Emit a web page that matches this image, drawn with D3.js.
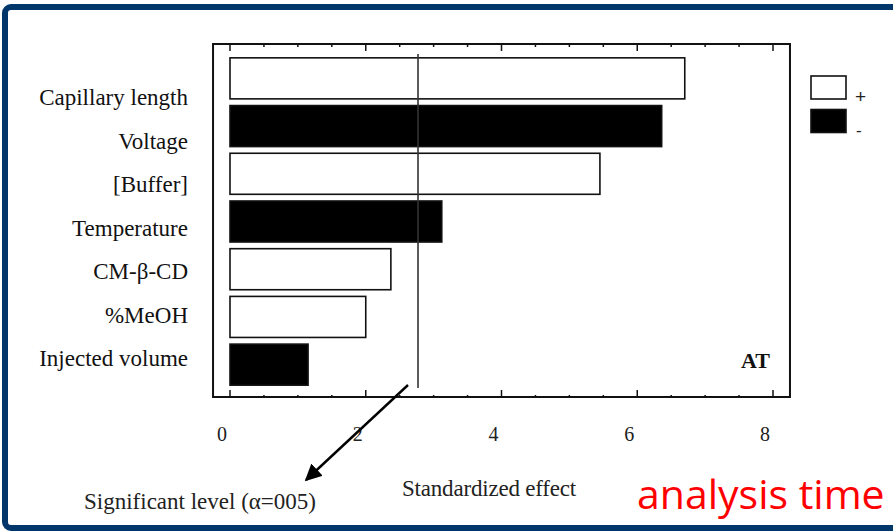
<!DOCTYPE html>
<html>
<head>
<meta charset="utf-8">
<script src="https://cdn.jsdelivr.net/npm/d3@7"></script>
<style>
  body { margin: 0; background: #fff; }
  svg { display: block; }
</style>
</head>
<body>
<svg id="chart"></svg>
<script>
// Pareto chart data (standardized effects, analysis time)
const factors = ["Capillary length", "Voltage", "[Buffer]", "Temperature", "CM-β-CD", "%MeOH", "Injected volume"];
const effects = [6.70, 6.36, 5.45, 3.12, 2.37, 2.00, 1.15];
const signs = ["+", "-", "+", "-", "+", "+", "-"];
const tickValues = [0, 2, 4, 6, 8];
const significance = 2.77;

const width = 893, height = 532;
const svg = d3.select("#chart").attr("width", width).attr("height", height);

// blue slide frame
svg.append("rect")
  .attr("x", 5).attr("y", 7)
  .attr("width", 910).attr("height", 521)
  .attr("rx", 6)
  .attr("fill", "#fff")
  .attr("stroke", "#00366a")
  .attr("stroke-width", 6);

// scales
const x = d3.scaleLinear().domain([0, 8]).range([230, 773]);
const y = d3.scaleBand().domain(factors).range([54.5, 388.5]).paddingInner(0.14).paddingOuter(0.07);
// labels in the scan sit a little off the bars
const yLabel = d3.scalePoint().domain(factors).range([97, 358]);

const plotTop = 44, plotBottom = 397;
const plotLeft = x(-0.25), plotRight = x(8.25);

// plot box
svg.append("rect")
  .attr("x", plotLeft).attr("y", plotTop)
  .attr("width", plotRight - plotLeft).attr("height", plotBottom - plotTop)
  .attr("fill", "none")
  .attr("stroke", "#111")
  .attr("stroke-width", 2);

// ticks (top, pointing down; bottom, pointing up)
const minor = d3.range(0, 8.01, 0.5);
svg.append("g").selectAll("line")
  .data(minor).enter().append("line")
  .attr("x1", d => x(d)).attr("x2", d => x(d))
  .attr("y1", plotTop).attr("y2", d => plotTop + (d % 2 === 0 ? 7 : 3))
  .attr("stroke", "#111").attr("stroke-width", 1.5);
svg.append("g").selectAll("line")
  .data(minor).enter().append("line")
  .attr("x1", d => x(d)).attr("x2", d => x(d))
  .attr("y1", plotBottom).attr("y2", d => plotBottom - (d % 2 === 0 ? 7 : 2))
  .attr("stroke", "#111").attr("stroke-width", 1.5);

// tick labels
svg.append("g").selectAll("text")
  .data(tickValues).enter().append("text")
  .attr("x", d => x(d) - 8)
  .attr("y", 441)
  .attr("text-anchor", "middle")
  .attr("font-family", "Liberation Serif, Times New Roman, serif")
  .attr("font-size", 20)
  .attr("fill", "#222")
  .text(d => d);

// bars
svg.append("g").selectAll("rect")
  .data(factors).enter().append("rect")
  .attr("x", x(0))
  .attr("y", d => y(d))
  .attr("width", (d, i) => x(effects[i]) - x(0))
  .attr("height", y.bandwidth())
  .attr("fill", (d, i) => signs[i] === "+" ? "#fff" : "#000")
  .attr("stroke", "#111")
  .attr("stroke-width", 1.6);

// significance line
svg.append("line")
  .attr("x1", x(significance)).attr("x2", x(significance))
  .attr("y1", 54).attr("y2", 388)
  .attr("stroke", "#333").attr("stroke-width", 1.6);

// category labels
svg.append("g").selectAll("text")
  .data(factors).enter().append("text")
  .attr("x", 188)
  .attr("y", d => yLabel(d))
  .attr("dy", "0.35em")
  .attr("text-anchor", "end")
  .attr("font-family", "Liberation Serif, Times New Roman, serif")
  .attr("font-size", 23)
  .attr("fill", "#111")
  .text(d => d);

// legend
const legend = svg.append("g");
const legendItems = ["+", "-"];
legend.selectAll("rect")
  .data(legendItems).enter().append("rect")
  .attr("x", 811)
  .attr("y", (d, i) => 76 + i * 33.5)
  .attr("width", 35).attr("height", 23)
  .attr("fill", d => d === "+" ? "#fff" : "#000")
  .attr("stroke", "#111").attr("stroke-width", 1.6);
legend.selectAll("text")
  .data(legendItems).enter().append("text")
  .attr("x", (d, i) => i === 0 ? 855 : 856)
  .attr("y", (d, i) => i === 0 ? 103 : 136)
  .attr("font-family", "Liberation Sans, Arial, sans-serif")
  .attr("font-size", (d, i) => i === 0 ? 19 : 17)
  .attr("fill", "#222")
  .text(d => d);

// panel label
svg.append("text")
  .attr("x", 741).attr("y", 368)
  .attr("font-family", "Liberation Serif, Times New Roman, serif")
  .attr("font-weight", "bold")
  .attr("font-size", 22)
  .attr("fill", "#111")
  .text("AT");

// axis title
svg.append("text")
  .attr("x", 489).attr("y", 496)
  .attr("text-anchor", "middle")
  .attr("font-family", "Liberation Serif, Times New Roman, serif")
  .attr("font-size", 23)
  .attr("letter-spacing", -0.2)
  .attr("fill", "#222")
  .text("Standardized effect");

// arrow to significance note
svg.append("defs").append("marker")
  .attr("id", "arrowhead")
  .attr("viewBox", "0 0 10 10")
  .attr("refX", 9).attr("refY", 5)
  .attr("markerWidth", 7).attr("markerHeight", 7)
  .attr("markerUnits", "strokeWidth")
  .attr("orient", "auto")
  .append("path")
  .attr("d", "M0,0 L10,5 L0,10 Z")
  .attr("fill", "#000");
svg.append("line")
  .attr("x1", 408).attr("y1", 385)
  .attr("x2", 306).attr("y2", 480)
  .attr("stroke", "#000").attr("stroke-width", 2.4)
  .attr("marker-end", "url(#arrowhead)");

svg.append("text")
  .attr("x", 200).attr("y", 509)
  .attr("text-anchor", "middle")
  .attr("font-family", "Liberation Serif, Times New Roman, serif")
  .attr("font-size", 23)
  .attr("fill", "#222")
  .text("Significant level (α=005)");

svg.append("text")
  .attr("x", 637).attr("y", 509)
  .attr("font-family", "Open Sans, Liberation Sans, sans-serif")
  .attr("font-size", 41)
  .attr("fill", "#ff0000")
  .text("analysis time");
</script>
</body>
</html>
